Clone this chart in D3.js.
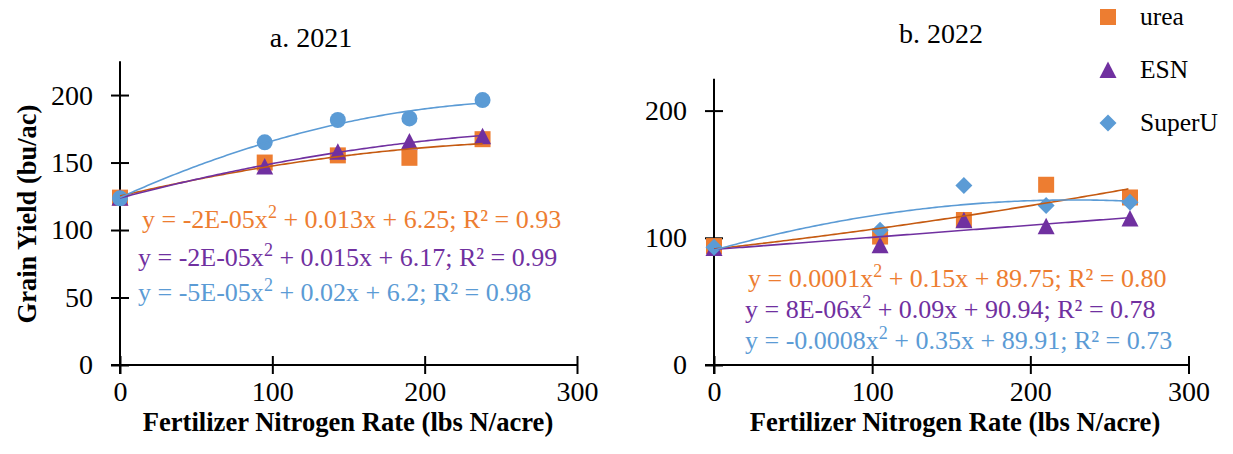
<!DOCTYPE html>
<html>
<head>
<meta charset="utf-8">
<script src="https://cdn.jsdelivr.net/npm/d3@7.9.0/dist/d3.min.js"></script>
<style>
  body { margin: 0; background: #fff; }
  svg { display: block; font-family: "Liberation Serif", "Times New Roman", serif; }
</style>
</head>
<body>
<svg id="chart" width="1233" height="454"></svg>
<script>
// N rates (lbs N/acre) and grain yield (bu/ac)
const rates2021 = [0, 95, 143, 190, 238];
const urea2021 = [124, 150, 155.3, 153.5, 167.3];
const esn2021 = [124, 147, 158, 165.6, 169.5];
const superu2021 = [123.5, 165, 181.5, 182.7, 196.3];

const rates2022 = [0, 105, 158, 210, 263];
const urea2022 = [93.5, 101, 114, 141.7, 131.7];
const esn2022 = [92, 94.2, 113.7, 109.1, 115.2];
const superu2022 = [92.5, 106, 141.2, 125.3, 128];

const seriesNames = ['urea', 'ESN', 'SuperU'];
const xTicks = [0, 100, 200, 300];
const yTicks2021 = [0, 50, 100, 150, 200];
const yTicks2022 = [0, 100, 200];

const eq2021 = [
  ['y = -2E-05x', '2', ' + 0.013x + 6.25; R² = 0.93'],
  ['y = -2E-05x', '2', ' + 0.015x + 6.17; R² = 0.99'],
  ['y = -5E-05x', '2', ' + 0.02x + 6.2; R² = 0.98']
];
const eq2022 = [
  ['y = 0.0001x', '2', ' + 0.15x + 89.75; R² = 0.80'],
  ['y = 8E-06x', '2', ' + 0.09x + 90.94; R² = 0.78'],
  ['y = -0.0008x', '2', ' + 0.35x + 89.91; R² = 0.73']
];

const markerColor = ['#ED7D31', '#7030A0', '#5B9BD5'];
const trendColor = ['#C55A11', '#7030A0', '#5B9BD5'];

const svg = d3.select('#chart');

// quadratic least squares, like an Excel order-2 trendline
function fitQuad(xs, ys) {
  let s = [0, 0, 0, 0, 0], t = [0, 0, 0];
  xs.forEach((x, i) => {
    for (let k = 0; k < 5; k++) s[k] += Math.pow(x, k);
    for (let k = 0; k < 3; k++) t[k] += ys[i] * Math.pow(x, k);
  });
  const A = [[s[0], s[1], s[2], t[0]], [s[1], s[2], s[3], t[1]], [s[2], s[3], s[4], t[2]]];
  for (let i = 0; i < 3; i++) {
    for (let j = i + 1; j < 3; j++) {
      const f = A[j][i] / A[i][i];
      for (let k = i; k < 4; k++) A[j][k] -= f * A[i][k];
    }
  }
  const c = [0, 0, 0];
  for (let i = 2; i >= 0; i--) {
    let v = A[i][3];
    for (let k = i + 1; k < 3; k++) v -= A[i][k] * c[k];
    c[i] = v / A[i][i];
  }
  return (x) => c[0] + c[1] * x + c[2] * x * x;
}

function markerPath(type) {
  if (type === 'square') return 'M-8,-8H8V8H-8Z';
  if (type === 'triangle') return 'M0,-8.5L8.5,8L-8.5,8Z';
  if (type === 'diamond') return 'M0,-8.5L8.5,0L0,8.5L-8.5,0Z';
  return d3.symbol(d3.symbolCircle, Math.PI * 8 * 8)();
}

function drawPanel(p) {
  const x = d3.scaleLinear().domain([0, 300]).range([p.x0, p.x1]);
  const y = d3.scaleLinear().domain([0, 225]).range([365, p.yTop]);
  const g = svg.append('g');

  // y axis with crossing ticks
  const ya = g.append('g').attr('transform', `translate(${p.x0},0)`)
    .call(d3.axisLeft(y).tickValues(p.yTicks).tickSize(9).tickPadding(18).tickSizeOuter(0));
  ya.select('.domain').remove();
  ya.selectAll('.tick line').attr('x1', -9).attr('x2', 9).attr('stroke', '#000').attr('stroke-width', 2);
  ya.selectAll('.tick text').attr('font-size', 28).attr('fill', '#000').attr('font-family', 'Liberation Serif');
  g.append('line').attr('x1', p.x0).attr('x2', p.x0).attr('y1', y(0) + 9).attr('y2', y(225))
    .attr('stroke', '#000').attr('stroke-width', 2);

  // x axis with crossing ticks
  const xa = g.append('g').attr('transform', `translate(0,${y(0)})`)
    .call(d3.axisBottom(x).tickValues(xTicks).tickSize(9).tickPadding(7).tickSizeOuter(0));
  xa.select('.domain').remove();
  xa.selectAll('.tick line').attr('y1', -9).attr('y2', 9).attr('stroke', '#000').attr('stroke-width', 2);
  xa.selectAll('.tick text').attr('font-size', 28).attr('fill', '#000').attr('font-family', 'Liberation Serif');
  g.append('line').attr('x1', x(0) - 9).attr('x2', x(300)).attr('y1', y(0)).attr('y2', y(0))
    .attr('stroke', '#000').attr('stroke-width', 2);

  // markers
  p.series.forEach((ys, i) => {
    g.append('g').selectAll('path').data(p.rates.map((r, j) => [r, ys[j]])).join('path')
      .attr('d', markerPath(p.markers[i]))
      .attr('transform', (d) => `translate(${x(d[0])},${y(d[1])})`)
      .attr('fill', markerColor[i]);
  });

  // trendlines
  p.series.forEach((ys, i) => {
    const f = fitQuad(p.rates, ys);
    const pts = d3.range(0, p.rates[p.rates.length - 1] + 0.01, 2).map((r) => [r, f(r)]);
    g.append('path').datum(pts)
      .attr('d', d3.line().x((d) => x(d[0])).y((d) => y(d[1])))
      .attr('fill', 'none').attr('stroke', trendColor[i]).attr('stroke-width', 1.6);
  });

  // equations
  p.equations.forEach((eq, i) => {
    const t = g.append('text').attr('x', p.eqX[i]).attr('y', p.eqY[i])
      .attr('font-size', 26).attr('fill', markerColor[i]);
    t.append('tspan').text(eq[0]);
    t.append('tspan').attr('dy', -10).attr('font-size', 18).text(eq[1]);
    t.append('tspan').attr('dy', 10).text(eq[2]);
  });

  g.append('text').attr('x', p.titleX).attr('y', p.titleY).attr('text-anchor', 'middle')
    .attr('font-size', 28).text(p.title);
  g.append('text').attr('x', p.xLabelX).attr('y', 431).attr('text-anchor', 'middle')
    .attr('font-size', 26.6).attr('font-weight', 'bold').text('Fertilizer Nitrogen Rate (lbs N/acre)');
}

drawPanel({
  x0: 120, x1: 577, yTop: 61.3, yTicks: yTicks2021, rates: rates2021,
  series: [urea2021, esn2021, superu2021], markers: ['square', 'triangle', 'circle'],
  equations: eq2021, eqX: [142, 138, 138], eqY: [228, 266, 301],
  title: 'a. 2021', titleX: 311, titleY: 47, xLabelX: 348
});

drawPanel({
  x0: 714, x1: 1188.5, yTop: 78.8, yTicks: yTicks2022, rates: rates2022,
  series: [urea2022, esn2022, superu2022], markers: ['square', 'triangle', 'diamond'],
  equations: eq2022, eqX: [748, 745, 745], eqY: [287, 318, 349],
  title: 'b. 2022', titleX: 941, titleY: 43, xLabelX: 955
});

// y axis title
svg.append('text').attr('transform', 'translate(36,214) rotate(-90)').attr('text-anchor', 'middle')
  .attr('font-size', 26.5).attr('font-weight', 'bold').text('Grain Yield (bu/ac)');

// legend
const legendMarkers = ['square', 'triangle', 'diamond'];
const legendY = [17, 70, 123];
const lg = svg.append('g');
seriesNames.forEach((name, i) => {
  lg.append('path').attr('d', markerPath(legendMarkers[i]))
    .attr('transform', `translate(1108,${legendY[i]})`).attr('fill', markerColor[i]);
  lg.append('text').attr('x', 1140).attr('y', legendY[i] + 8).attr('font-size', 25.5).text(name);
});
</script>
</body>
</html>
